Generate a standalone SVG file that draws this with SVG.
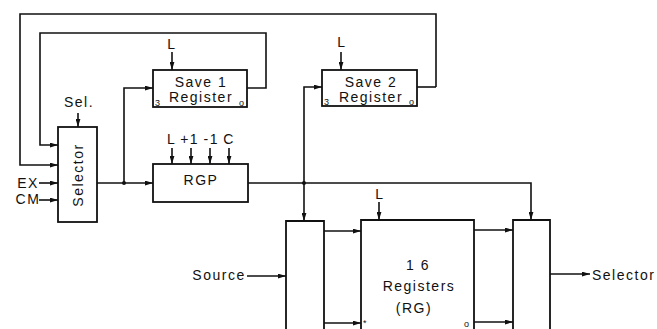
<svg xmlns="http://www.w3.org/2000/svg" width="657" height="329" viewBox="0 0 657 329">
<style>
.b{fill:none;stroke:#111;stroke-width:1.8}
.w{fill:none;stroke:#111;stroke-width:1.6}
.t{font-family:"Liberation Sans",Arial,sans-serif;font-size:14px;fill:#111;letter-spacing:1.5px}
.s{font-family:"Liberation Sans",Arial,sans-serif;font-size:9px;fill:#111}
</style>
<defs>
<marker id="a" viewBox="0 0 10 6" refX="10" refY="3" markerWidth="8" markerHeight="5" markerUnits="userSpaceOnUse" orient="auto"><path d="M0,0L10,3L0,6z" fill="#111"/></marker>
</defs>
<rect width="657" height="329" fill="#fff"/>
<g id="selector"><rect class="b" x="58" y="127" width="39" height="95"/><text class="t" transform="translate(83,175) rotate(-90)" text-anchor="middle">Selector</text><text class="t" x="79" y="107" text-anchor="middle">Sel.</text></g>
<g id="save1"><rect class="b" x="153" y="70" width="94" height="37"/><text class="t" x="201" y="87" text-anchor="middle">Save 1</text><text class="t" x="201" y="102" text-anchor="middle">Register</text><text class="s" x="155" y="106">3</text><text class="s" x="239" y="106">o</text><text class="t" x="172" y="49" text-anchor="middle">L</text></g>
<g id="save2"><rect class="b" x="322" y="70" width="95" height="36"/><text class="t" x="371" y="87" text-anchor="middle">Save 2</text><text class="t" x="371" y="102" text-anchor="middle">Register</text><text class="s" x="324" y="105">3</text><text class="s" x="409" y="105">o</text><text class="t" x="342" y="47" text-anchor="middle">L</text></g>
<g id="rgp"><rect class="b" x="153" y="164" width="95" height="38"/><text class="t" x="201" y="185" text-anchor="middle">RGP</text><text class="t" x="201" y="144" text-anchor="middle" word-spacing="-1">L +1 -1 C</text></g>
<g id="mux-in"><path class="b" d="M286,329V221H324V329"/></g>
<g id="rg"><path class="b" d="M361,329V220H474V329"/><text class="t" x="418" y="270" text-anchor="middle">1 6</text><text class="t" x="419" y="291" text-anchor="middle">Registers</text><text class="t" x="414" y="313" text-anchor="middle">(RG)</text><text class="s" x="363" y="326">*</text><text class="s" x="464" y="327">o</text><text class="t" x="380" y="199" text-anchor="middle">L</text></g>
<g id="mux-out"><path class="b" d="M513,329V220H550V329"/></g>
<g id="labels"><text class="t" x="28" y="188" text-anchor="middle">EX</text><text class="t" x="28" y="204" text-anchor="middle">CM</text><text class="t" x="219" y="280" text-anchor="middle">Source</text><text class="t" x="592" y="280">Selector</text></g>
<g id="connectors">
<path class="w" d="M436,87V14H20V165H58" marker-end="url(#a)"/>
<path class="w" d="M247,88H266V33H40V145H58" marker-end="url(#a)"/>
<path class="w" d="M417,87H436"/>
<path class="w" d="M78,113V127" marker-end="url(#a)"/>
<path class="w" d="M172,52V70" marker-end="url(#a)"/>
<path class="w" d="M341,52V70" marker-end="url(#a)"/>
<path class="w" d="M172,148V164" marker-end="url(#a)"/>
<path class="w" d="M191,148V164" marker-end="url(#a)"/>
<path class="w" d="M210,148V164" marker-end="url(#a)"/>
<path class="w" d="M229,148V164" marker-end="url(#a)"/>
<path class="w" d="M39,183H58" marker-end="url(#a)"/>
<path class="w" d="M39,200H58" marker-end="url(#a)"/>
<path class="w" d="M97,183H153" marker-end="url(#a)"/>
<path class="w" d="M124,183V88H153" marker-end="url(#a)"/>
<circle cx="124" cy="183" r="2" fill="#111"/>
<path class="w" d="M248,183H531V220" marker-end="url(#a)"/>
<path class="w" d="M304,183V221" marker-end="url(#a)"/>
<path class="w" d="M304,183V87H322" marker-end="url(#a)"/>
<circle cx="304" cy="183" r="2" fill="#111"/>
<path class="w" d="M379,202V220" marker-end="url(#a)"/>
<path class="w" d="M324,231H361" marker-end="url(#a)"/>
<path class="w" d="M324,323H361" marker-end="url(#a)"/>
<path class="w" d="M474,230H513" marker-end="url(#a)"/>
<path class="w" d="M474,322H513" marker-end="url(#a)"/>
<path class="w" d="M247,276H286" marker-end="url(#a)"/>
<path class="w" d="M550,274H590" marker-end="url(#a)"/>
</g>
</svg>
